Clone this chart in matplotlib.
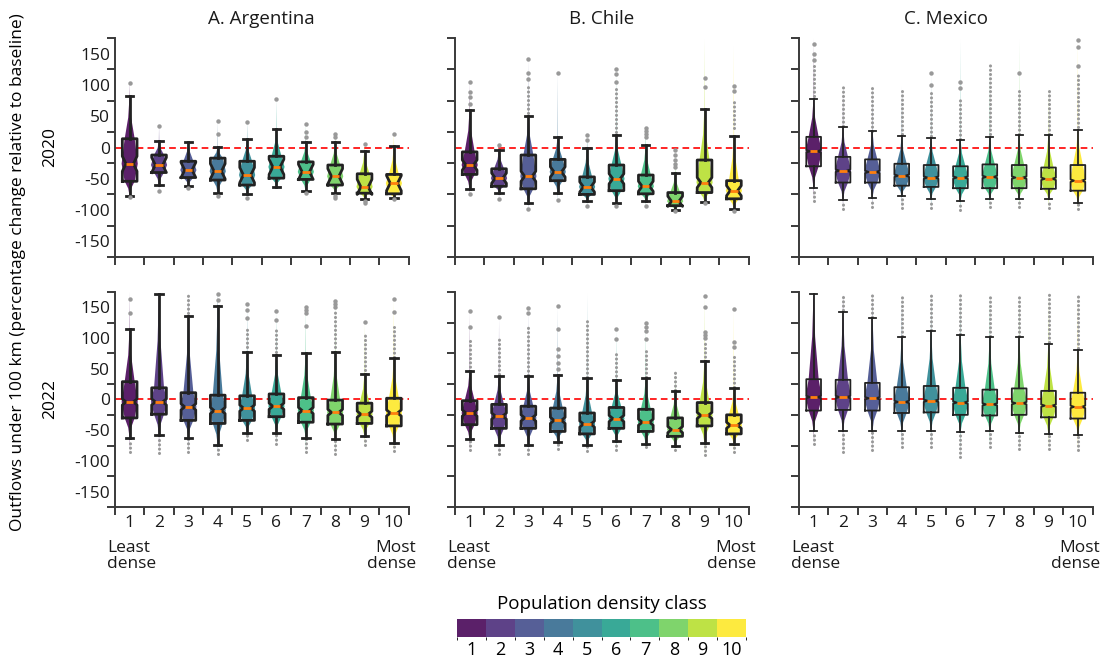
import matplotlib.pyplot as plt
import numpy as np
from matplotlib.colors import ListedColormap, BoundaryNorm
from matplotlib.cm import ScalarMappable
import matplotlib.transforms as mtrans

plt.rcParams['font.family'] = ['Open Sans', 'DejaVu Sans']

# density classes and panel layout
classes = list(range(1, 11))
countries = ['A. Argentina', 'B. Chile', 'C. Mexico']
years = ['2020', '2022']
panels = [['arg20', 'chl20', 'mex20'], ['arg22', 'chl22', 'mex22']]

# box statistics (% change vs baseline)
q3 = {
    'arg20': [14, -12, -22, -17, -22, -14, -23, -28, -42, -43],
    'arg22': [29, 19, 11, 7, 6, 9, 3, -1, -6, 2],
    'chl20': [-7, -34, -12, -19, -47, -28, -44, -72, -20, -53],
    'chl22': [-2, -8, -11, -14, -22, -13, -16, -30, -5, -25],
    'mex20': [17, -15, -19, -26, -28, -30, -27, -28, -32, -28],
    'mex22': [33, 32, 27, 20, 22, 19, 16, 18, 14, 11],
}
med = {
    'arg20': [-26, -28, -36, -38, -44, -31, -39, -46, -63, -57],
    'arg22': [-4, -4, -12, -18, -14, -11, -18, -21, -24, -22],
    'chl20': [-28, -49, -46, -39, -63, -50, -62, -86, -56, -69],
    'chl22': [-22, -27, -30, -34, -40, -31, -37, -49, -26, -42],
    'mex20': [-6, -37, -39, -45, -48, -48, -47, -48, -50, -53],
    'mex22': [4, 4, 2, -4, -2, -5, -8, -6, -10, -12],
}
q1 = {
    'arg20': [-54, -40, -48, -52, -60, -49, -51, -60, -73, -74],
    'arg22': [-30, -24, -34, -39, -34, -28, -37, -40, -39, -43],
    'chl20': [-43, -62, -66, -53, -75, -69, -74, -93, -72, -82],
    'chl22': [-41, -47, -47, -52, -56, -47, -52, -60, -43, -56],
    'mex20': [-30, -56, -56, -61, -63, -65, -65, -65, -66, -69],
    'mex22': [-18, -17, -18, -22, -21, -25, -26, -25, -29, -31],
}
whi = {
    'arg20': [82, 10, 9, 1, 13, 29, 9, 9, -6, 2],
    'arg22': [115, 172, 136, 152, 78, 72, 76, 78, 41, 68],
    'chl20': [60, -4, 51, 17, -1, 20, 4, -41, 62, 19],
    'chl22': [46, 39, 38, 40, 35, 31, 35, 14, 62, 18],
    'mex20': [78, 32, 26, 18, 15, 12, 17, 20, 20, 28],
    'mex22': [172, 142, 133, 101, 111, 105, 101, 101, 91, 81],
}
wlo = {
    'arg20': [-77, -60, -62, -73, -74, -63, -70, -73, -82, -81],
    'arg22': [-62, -58, -62, -74, -54, -54, -62, -64, -60, -71],
    'chl20': [-66, -72, -89, -72, -85, -89, -86, -100, -87, -98],
    'chl22': [-65, -74, -74, -69, -74, -68, -72, -75, -71, -73],
    'mex20': [-65, -84, -80, -78, -83, -85, -82, -83, -83, -88],
    'mex22': [-52, -51, -51, -52, -51, -53, -52, -54, -56, -58],
}
# half-width of the notch (confidence interval of the median)
notch_ci = {'arg20': 12, 'arg22': 5, 'chl20': 8, 'chl22': 5, 'mex20': 2, 'mex22': 2}

# isolated outliers
fliers = {
    'arg20': [[103, -79], [34, -69], [-65], [42, 21, -77], [41, -81], [78],
              [37, 24, 17, -73], [22, 16, -77, -80], [5, -85, -88], [21, -82]],
    'arg22': [[163, 140], [], [], [172, 162], [133, 145, 155], [144, 130],
              [151, 145, 140, 120], [161, 155, 150], [126], [163, 142]],
    'chl20': [[105, 88, 81, 69, -75], [4, -82], [142, 119, 110, -98], [119, -84],
              [20, 12, -93], [125, 117, 105, -93], [31, 27, 22, 17, -93],
              [-4, -12, -20, -26, -31, -101], [111, 96, -89], [99, 90, -101]],
    'chl22': [[144, 118], [134], [149, 140], [152, 115, 82, 70, 60, 50], [],
              [115, 99], [124, 118, 112, 98], [], [169, 150, 110, 105, 100], [148, 93, 85]],
    'mex20': [[140, 150, 165], [], [], [], [100, 119], [95, 105], [], [119], [],
              [130, 160, 172]],
    'mex22': [[], [], [], [], [], [], [], [], [], []],
}
# dense runs of outliers (low, high)
bands = {
    'arg20': [[], [], [], [], [], [], [], [], [], []],
    'arg22': [[(-85, -66)], [(-87, -61)], [(140, 170), (-85, -65)], [(-88, -77)],
              [(86, 120), (-66, -58)], [(78, 118), (-72, -58)], [(-85, -65)],
              [(86, 145), (-89, -66)], [(48, 105), (-74, -61)], [(69, 118), (-84, -72)]],
    'chl20': [[], [], [(55, 100)], [], [], [(25, 98)], [], [], [], [(31, 75)]],
    'chl22': [[(47, 99), (-83, -67)], [(42, 99), (-88, -76)], [(40, 120), (-89, -76)],
              [(-80, -71)], [(36, 131), (-84, -76)], [(31, 75), (-83, -70)],
              [(36, 80), (-78, -74)], [(15, 46), (-82, -77)], [(63, 95), (-91, -72)],
              [(20, 70), (-86, -75)]],
    'mex20': [[(83, 130), (-86, -67)], [(35, 99), (-99, -86)], [(26, 99), (-95, -82)],
              [(22, 97), (-97, -80)], [(19, 90), (-97, -85)], [(14, 80), (-100, -87)],
              [(22, 132), (-95, -84)], [(22, 95), (-95, -85)], [(22, 94), (-97, -85)],
              [(32, 120), (-99, -90)]],
    'mex22': [[(-72, -53)], [(145, 172), (-86, -53)], [(135, 172), (-83, -53)],
              [(103, 172), (-78, -54)], [(113, 172), (-78, -53)], [(107, 172), (-93, -55)],
              [(103, 172), (-78, -54)], [(103, 170), (-80, -56)], [(93, 172), (-80, -58)],
              [(83, 168), (-82, -60)]],
}
# faint violin tails reaching beyond the last outlier
tails = {'arg22': {0: 175}, 'chl20': {8: 173, 9: 162}, 'chl22': {4: 172},
         'mex20': {0: 175, 5: 172, 7: 172}}

# viridis classes, slightly washed out like the original
white = np.array([1.0, 1.0, 1.0, 1.0])
colors = [0.88 * np.array(col) + 0.12 * white for col in plt.cm.viridis(np.linspace(0, 1, 10))]
dark = '#222222'
spine_c = '#3a3a3a'
flier_c = '#999999'

fig = plt.figure(figsize=(11.1, 6.61), dpi=100)
lefts = [0.1036, 0.4099, 0.7198]
bottoms = [0.6112, 0.233]
heights = [0.3313, 0.3253]
width = 0.2645

for r in range(2):
    for c in range(3):
        key = panels[r][c]
        ax = fig.add_axes([lefts[c], bottoms[r], width, heights[r]])
        ax.axhline(0, color='red', ls=(0, (4, 2.5)), lw=1.2, zorder=1)
        lw = 1.3 if key.startswith('mex') else 2.0

        vstats, bstats = [], []
        for i in range(10):
            pts = fliers[key][i]
            bnd = bands[key][i]
            ends = [wlo[key][i], whi[key][i]] + pts + [v for b in bnd for v in b]
            lo, hi = min(ends), max(ends)
            hi = max(hi, tails.get(key, {}).get(i, hi))
            a, b1, m, b3, z = wlo[key][i], q1[key][i], med[key][i], q3[key][i], whi[key][i]
            vstats.append(dict(
                coords=[lo, a, (a + b1) / 2, b1, m, b3, (b3 + z) / 2, z, hi],
                vals=[0, 0.02, 0.18, 0.62, 1.0, 0.62, 0.18, 0.02, 0],
                mean=m, median=m, min=lo, max=hi))
            bstats.append(dict(
                med=m, q1=b1, q3=b3, whislo=a, whishi=z, fliers=pts,
                cilo=m - notch_ci[key], cihi=m + notch_ci[key]))
            for bb in bnd:
                lc = ax.vlines(classes[i], bb[0], bb[1], colors=flier_c, lw=2.2,
                               linestyles=(0, (0.05, 1.35)), zorder=2.5)
                lc.set_capstyle('round')

        parts = ax.violin(vstats, positions=classes, widths=0.55, showmeans=False,
                          showextrema=False, showmedians=False)
        for body, col in zip(parts['bodies'], colors):
            body.set_facecolor(col)
            body.set_edgecolor('none')
            body.set_alpha(1)
            body.set_zorder(2)

        ax.bxp(bstats, positions=classes, widths=0.5, shownotches=True, showfliers=True,
               patch_artist=False, manage_ticks=False, zorder=3,
               boxprops=dict(color=dark, lw=lw),
               whiskerprops=dict(color=dark, lw=lw),
               capprops=dict(color=dark, lw=lw),
               medianprops=dict(color='#ff7f0e', lw=2),
               flierprops=dict(marker='o', ms=3.2, mfc=flier_c, mec='none'))

        ax.set_xlim(0.5, 10.5)
        ax.set_ylim(-175, 175)
        ax.set_xticks(np.arange(0.5, 11, 1))
        ax.set_xticklabels([])
        ax.set_yticks(np.arange(-175, 176, 50))
        ax.set_yticklabels([])
        ax.set_yticks(np.arange(-150, 151, 50), minor=True)
        ax.set_xticks(classes, minor=True)
        if c == 0:
            ax.set_yticklabels([str(v) for v in range(-150, 151, 50)], minor=True)
        else:
            ax.set_yticklabels([], minor=True)
        if r == 1:
            ax.set_xticklabels([str(v) for v in classes], minor=True)
            tr = mtrans.blended_transform_factory(ax.transData, ax.transAxes)
            ax.text(0.23, -0.155, 'Least\ndense', transform=tr, ha='left', va='top',
                    fontsize=12.5, linespacing=1.0, color='#1a1a1a')
            ax.text(10.75, -0.155, 'Most\ndense', transform=tr, ha='right', va='top',
                    fontsize=12.5, linespacing=1.0, color='#1a1a1a')
        else:
            ax.set_xticklabels([], minor=True)
            ax.set_title(countries[c], fontsize=13.5, pad=10, color='#1a1a1a')
        ax.tick_params(which='major', length=6, width=1.4, color=spine_c)
        ax.tick_params(which='minor', length=0, labelsize=12.5, labelcolor='#1a1a1a')
        ax.tick_params(axis='x', which='minor', pad=6)
        for s in ['top', 'right']:
            ax.spines[s].set_visible(False)
        for s in ['left', 'bottom']:
            ax.spines[s].set_color(spine_c)
            ax.spines[s].set_linewidth(1.4)

fig.text(0.045, 0.777, years[0], rotation=90, ha='center', va='center', fontsize=12.5)
fig.text(0.045, 0.396, years[1], rotation=90, ha='center', va='center', fontsize=12.5)
fig.text(0.0165, 0.588, 'Outflows under 100 km (percentage change relative to baseline)',
         rotation=90, ha='center', va='center', fontsize=12.5)

# class colour bar
cax = fig.add_axes([0.4117, 0.0363, 0.2604, 0.0272])
cmap = ListedColormap(colors)
norm = BoundaryNorm(np.arange(0.5, 11, 1), 10)
cb = fig.colorbar(ScalarMappable(norm=norm, cmap=cmap), cax=cax,
                  orientation='horizontal', ticks=classes)
cb.outline.set_visible(False)
cax.tick_params(length=0, labelsize=13, pad=3)
cax.set_title('Population density class', fontsize=13.5, pad=7)

fig.savefig('out.png', dpi=100)
